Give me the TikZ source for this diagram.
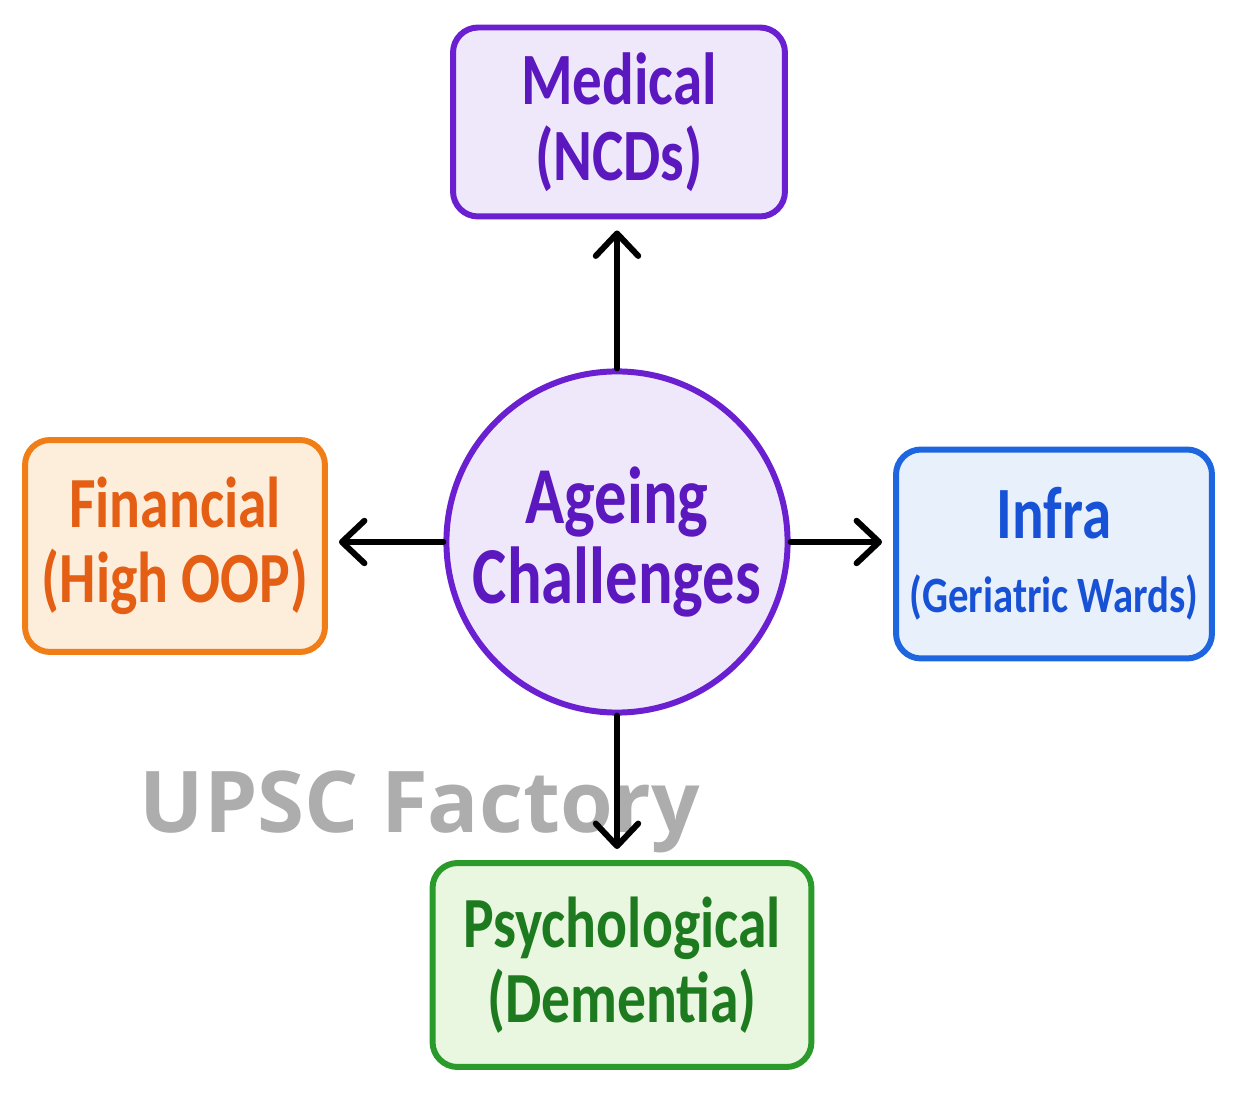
\documentclass[tikz,border=0pt]{standalone}
\usepackage{fontspec}
\newfontfamily\handfont[FakeStretch=0.8]{Carlito}
\newfontfamily\markfont{Open Sans}
\usetikzlibrary{arrows.meta}

\definecolor{medline}{HTML}{6A1FD0}
\definecolor{medtext}{HTML}{5A18BE}
\definecolor{medfill}{HTML}{EFE7FA}
\definecolor{finline}{HTML}{F07D16}
\definecolor{fintext}{HTML}{E45E14}
\definecolor{finfill}{HTML}{FDEEDC}
\definecolor{infline}{HTML}{1E66E0}
\definecolor{inftext}{HTML}{1752D6}
\definecolor{inffill}{HTML}{E8F0FC}
\definecolor{psyline}{HTML}{2A9A2A}
\definecolor{psytext}{HTML}{1E7A1E}
\definecolor{psyfill}{HTML}{E9F7E1}
\definecolor{markgray}{HTML}{ADADAD}

\newcommand\handsize[2]{\handfont\bfseries\fontsize{#1}{#2}\selectfont}

\tikzset{
  topic/.style={draw, rounded corners=0.5cm, line width=3.4pt, align=center},
  arr/.style={-{Straight Barb[round,length=0.45cm,width=0.85cm]}, line width=3.4pt,
    line cap=round, shorten >=0.22cm},
}

\begin{document}
\begin{tikzpicture}[x=0.02cm,y=-0.02cm]
\useasboundingbox (0,0) rectangle (1238,1094);

% centre
\node[circle, draw=medline, fill=medfill, line width=3.4pt, minimum size=6.72cm,
  text=medtext, align=center, font=\handsize{46}{46}] (chal) at (617,542) {Ageing\\Challenges};

% the four challenges
\node[topic, draw=medline, fill=medfill, text=medtext, minimum width=6.64cm,
  minimum height=3.78cm, font=\handsize{42}{43}] (med) at (619,122) {Medical\\(NCDs)};
\node[topic, draw=finline, fill=finfill, text=fintext, minimum width=6.0cm,
  minimum height=4.24cm, font=\handsize{41}{43}] (fin) at (175,546) {Financial\\(High OOP)};
\node[topic, draw=infline, fill=inffill, text=inftext, minimum width=6.32cm,
  minimum height=4.18cm, font=\handsize{42}{42}] (inf) at (1054,554)
  {Infra\\{\handsize{29}{42}(Geriatric Wards)}};
\node[topic, draw=psyline, fill=psyfill, text=psytext, minimum width=7.58cm,
  minimum height=4.08cm, font=\handsize{41}{43}] (psy) at (622,965) {Psychological\\(Dementia)};

% watermark
\node[text=markgray, font=\markfont\bfseries\fontsize{48.5}{48}\selectfont, anchor=base]
  (mark) at (420,832) {UPSC Factory};

\draw[arr] (chal.north) -- (chal.north |- med.south);
\draw[arr] (chal.west) -- (chal.west -| fin.east);
\draw[arr] (chal.east) -- (chal.east -| inf.west);
\draw[arr] (chal.south) -- (chal.south |- psy.north);
\end{tikzpicture}
\end{document}
